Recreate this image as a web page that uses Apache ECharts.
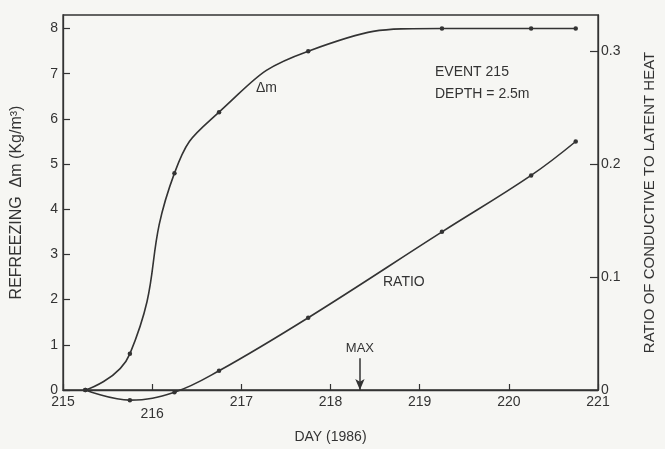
<!DOCTYPE html>
<html>
<head>
<meta charset="utf-8">
<script src="https://cdn.jsdelivr.net/npm/echarts@6/dist/echarts.min.js"></script>
<style>
html,body{margin:0;padding:0;background:#f6f6f3;}
#c{width:665px;height:449px;}
</style>
</head>
<body>
<div id="c"></div>
<script>
// Data
const days = [215.25, 215.75, 216.25, 216.75, 217.75, 219.25, 220.25, 220.75];
const deltaM = [0, 0.8, 4.8, 6.15, 7.5, 8, 8, 8];
const ratio = [0, -0.009, -0.002, 0.017, 0.064, 0.14, 0.19, 0.22];
const xTickLabels = ['215', '216', '217', '218', '219', '220', '221'];
const leftTickLabels = ['0', '1', '2', '3', '4', '5', '6', '7', '8'];
const rightTickLabels = ['0', '0.1', '0.2', '0.3'];
const maxDay = 218.33;

const ink = '#333333';
const font = 'Liberation Sans, Arial, Helvetica, sans-serif';

const chart = echarts.init(document.getElementById('c'), null, {renderer: 'canvas'});

const option = {
  backgroundColor: '#f6f6f3',
  animation: false,
  textStyle: {fontFamily: font, color: ink},
  grid: {left: 63, right: 63, top: 15, bottom: 57, show: true, borderColor: ink, borderWidth: 1.3, backgroundColor: 'transparent'},
  xAxis: {
    type: 'value', min: 215, max: 221, interval: 1,
    name: 'DAY (1986)', nameLocation: 'middle', nameGap: 40,
    nameTextStyle: {fontSize: 14, color: ink, fontFamily: font},
    axisLine: {show: true, lineStyle: {color: ink, width: 1.3}},
    axisTick: {show: true, inside: true, length: 6, lineStyle: {color: ink, width: 1.2}},
    splitLine: {show: false},
    axisLabel: {
      fontSize: 14, color: ink, fontFamily: font, margin: 5,
      formatter: function (v) {
        const s = xTickLabels[Math.round(v - 215)];
        return s === '216' ? '{low|' + s + '}' : s;
      },
      rich: {low: {fontSize: 14, color: ink, fontFamily: font, padding: [12, 0, 0, 0]}}
    }
  },
  yAxis: [
    {
      type: 'value', min: 0, max: 8.3, interval: 1, position: 'left',
      name: 'REFREEZING  Δm (Kg/m³)', nameLocation: 'middle', nameGap: 38,
      nameTextStyle: {fontSize: 16, color: ink, fontFamily: font},
      axisLine: {show: true, lineStyle: {color: ink, width: 1.3}},
      axisTick: {show: true, inside: true, length: 7, lineStyle: {color: ink, width: 1.2}},
      splitLine: {show: false},
      axisLabel: {fontSize: 14, color: ink, fontFamily: font, margin: 5, showMaxLabel: false,
        formatter: function (v) { return leftTickLabels[Math.round(v)] || ''; }}
    },
    {
      type: 'value', min: 0, max: 0.332, interval: 0.1, position: 'right',
      name: 'RATIO OF CONDUCTIVE TO LATENT HEAT', nameLocation: 'middle', nameGap: 44, nameRotate: 90,
      nameTextStyle: {fontSize: 15, color: ink, fontFamily: font},
      axisLine: {show: true, lineStyle: {color: ink, width: 1.3}},
      axisTick: {show: true, inside: true, length: 8, lineStyle: {color: ink, width: 1.2}},
      splitLine: {show: false},
      axisLabel: {fontSize: 14, color: ink, fontFamily: font, margin: 3, showMaxLabel: false,
        formatter: function (v) { return rightTickLabels[Math.round(v * 10)] || ''; }}
    }
  ],
  series: [
    {
      name: 'Δm', type: 'line', yAxisIndex: 0,
      data: days.map((d, i) => [d, deltaM[i]]),
      smooth: 0.5,
      symbol: 'circle', symbolSize: 4.5,
      itemStyle: {color: ink},
      lineStyle: {color: ink, width: 1.6},
      markLine: {
        silent: true, animation: false,
        symbol: ['none', 'arrow'], symbolSize: [7, 11],
        lineStyle: {color: ink, width: 1.5, type: 'solid'},
        label: {show: true, position: 'start', formatter: 'MAX', fontSize: 13, color: ink, fontFamily: font, distance: 3},
        data: [[{coord: [maxDay, 0.7]}, {coord: [maxDay, 0]}]]
      }
    },
    {
      name: 'RATIO', type: 'line', yAxisIndex: 1, clip: false,
      data: days.map((d, i) => [d, ratio[i]]),
      smooth: 0.4,
      symbol: 'circle', symbolSize: 4.5,
      itemStyle: {color: ink},
      lineStyle: {color: ink, width: 1.6}
    }
  ],
  graphic: [
    {type: 'text', left: 256, top: 81, style: {text: 'Δm', fontSize: 14, fill: ink, fontFamily: font}},
    {type: 'text', left: 383, top: 275, style: {text: 'RATIO', fontSize: 14, fill: ink, fontFamily: font}},
    {type: 'text', left: 435, top: 65, style: {text: 'EVENT 215', fontSize: 14, fill: ink, fontFamily: font}},
    {type: 'text', left: 435, top: 87, style: {text: 'DEPTH = 2.5m', fontSize: 14, fill: ink, fontFamily: font}}
  ]
};
chart.setOption(option);
</script>
</body>
</html>
